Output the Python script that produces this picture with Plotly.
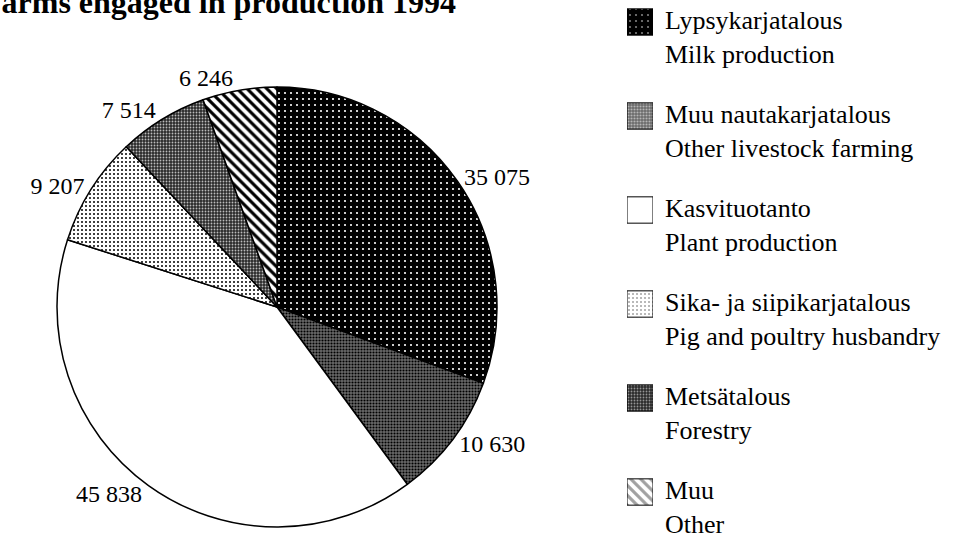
import plotly.graph_objects as go

# farms by production type 1994
labels_fi = ["Lypsykarjatalous", "Muu nautakarjatalous", "Kasvituotanto",
             "Sika- ja siipikarjatalous", "Metsätalous", "Muu"]
labels_en = ["Milk production", "Other livestock farming", "Plant production",
             "Pig and poultry husbandry", "Forestry", "Other"]
farms = [35075, 10630, 45838, 9207, 7514, 6246]

title = "Farms engaged in production 1994"

# black & white fill patterns, one per slice
bg = ["black", "#6a6a6a", "white", "white", "#2a2a2a", "white"]
fg = ["white", "black", "black", "black", "#bbbbbb", "black"]
shapes = [".", ".", "", ".", ".", "\\"]
solid = [0.1, 0.4, 0.3, 0.2, 0.3, 0.45]
psize = [6, 3, 4, 4, 3, 7]

FONT = "Liberation Serif, Times New Roman, serif"
W, H = 957, 533

pattern = dict(shape=shapes, fgcolor=fg, bgcolor=bg, solidity=solid, size=psize)

fig = go.Figure()

fig.add_trace(go.Pie(
    labels=labels_en, values=farms, sort=False,
    direction="clockwise", rotation=0,
    marker=dict(colors=bg, line=dict(color="black", width=1.5), pattern=pattern),
    textposition="outside", texttemplate="%{value:,}",
    textfont=dict(family=FONT, size=24, color="black"),
    domain=dict(x=[57 / W, 497 / W], y=[6 / H, 446 / H]),
    showlegend=False, hoverinfo="label+value",
))

# legend drawn as small patterned squares (bars) on a hidden axis
fig.add_trace(go.Bar(
    y=labels_en, x=[1] * len(farms), base=0, orientation="h", width=0.28,
    marker=dict(color=bg, line=dict(color="black", width=1), pattern=pattern),
    xaxis="x", yaxis="y", showlegend=False, hoverinfo="skip",
))

for fi, en in zip(labels_fi, labels_en):
    fig.add_annotation(
        text=fi + "<br>" + en, xref="paper", x=663 / W, xanchor="left",
        yref="y", y=en, yanchor="top", yshift=18, align="left", showarrow=False,
        font=dict(family=FONT, size=26, color="black"),
    )

fig.add_annotation(
    text="<b>" + title + "</b>", xref="paper", yref="paper",
    x=-20 / W, y=1, xanchor="left", yanchor="middle", yshift=-2,
    showarrow=False, font=dict(family=FONT, size=32, color="black"),
)

fig.update_layout(
    width=W, height=H,
    margin=dict(l=0, r=0, t=0, b=0),
    paper_bgcolor="white", plot_bgcolor="white",
    separators=". ",
    showlegend=False,
    xaxis=dict(domain=[627 / W, 653 / W], range=[0, 1], visible=False, fixedrange=True),
    yaxis=dict(domain=[0, 1], type="category", range=[5.436, -0.234],
               visible=False, fixedrange=True),
)

# page body has an 8px default margin, drop it so the chart sits at the corner
fig.write_html("out.html", config={"displayModeBar": False},
               post_script="document.body.style.margin='0';")
